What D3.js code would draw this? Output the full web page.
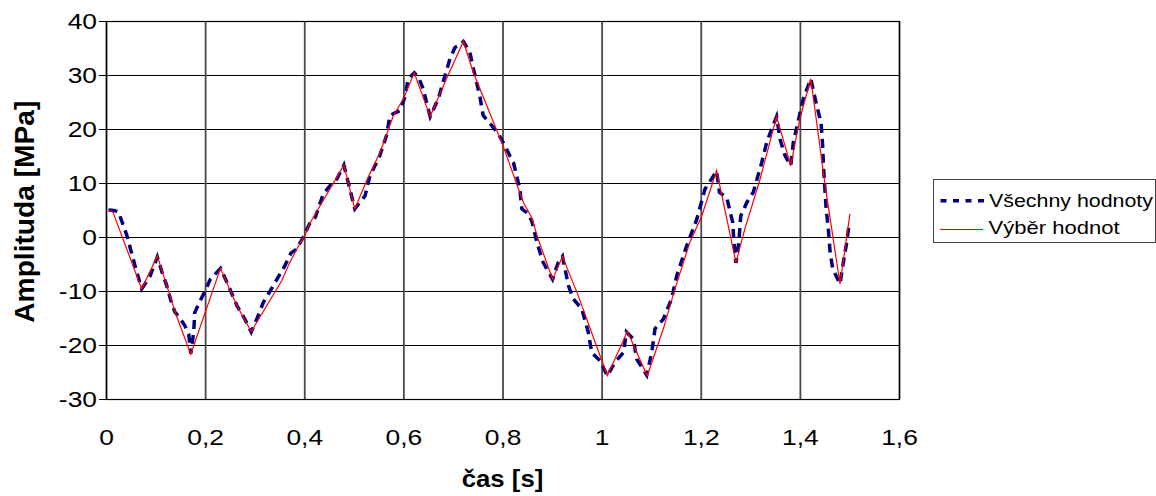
<!DOCTYPE html>
<html>
<head>
<meta charset="utf-8">
<script src="https://cdn.jsdelivr.net/npm/d3@7/dist/d3.min.js"></script>
<style>
html,body{margin:0;padding:0;background:#fff;}
text{font-family:"Liberation Sans",Arial,sans-serif;fill:#000;}
</style>
</head>
<body>
<svg id="chart" width="1156" height="496"></svg>
<script>
// ---- data ----
const seriesNames = ["Všechny hodnoty", "Výběr hodnot"];
const xTickValues = [0, 0.2, 0.4, 0.6, 0.8, 1.0, 1.2, 1.4, 1.6];
const xTickLabels = ["0", "0,2", "0,4", "0,6", "0,8", "1", "1,2", "1,4", "1,6"];
const yTickValues = [-30, -20, -10, 0, 10, 20, 30, 40];
const yTickLabels = ["-30", "-20", "-10", "0", "10", "20", "30", "40"];
const xTitle = "čas [s]";
const yTitle = "Amplituda [MPa]";

// all values (dashed navy)
const allTime = [0.004,0.015,0.024,0.041,0.0575,0.071,0.080,0.088,0.1025,0.112,0.1215,0.130,0.138,0.148,0.158,0.166,0.170,0.176,0.178,0.189,0.199,0.209,0.230,0.246,0.263,0.278,0.292,0.304,0.3165,0.3366,0.360,0.372,0.3838,0.397,0.410,0.421,0.4375,0.451,0.4645,0.479,0.491,0.501,0.512,0.5216,0.5317,0.550,0.565,0.572,0.582,0.592,0.601,0.609,0.621,0.630,0.639,0.653,0.6695,0.683,0.693,0.703,0.712,0.720,0.733,0.7435,0.7536,0.760,0.774,0.7906,0.804,0.814,0.821,0.834,0.838,0.848,0.858,0.869,0.881,0.900,0.9116,0.920,0.932,0.942,0.959,0.972,0.979,0.9958,1.0105,1.026,1.043,1.049,1.063,1.0698,1.090,1.100,1.1067,1.1235,1.140,1.1505,1.1707,1.191,1.2076,1.231,1.2366,1.2514,1.2635,1.266,1.270,1.276,1.2797,1.292,1.305,1.322,1.332,1.342,1.352,1.359,1.369,1.3806,1.3857,1.399,1.406,1.421,1.433,1.4417,1.445,1.4465,1.452,1.4564,1.460,1.4653,1.480,1.4867,1.4935,1.4988];
const allValue = [5.0,4.9,4.7,0.3,-5.3,-9.6,-8.4,-7.2,-3.7,-6.5,-9.0,-11.8,-13.9,-15.0,-16.4,-18.0,-21.6,-17.6,-14.0,-11.8,-10.0,-7.9,-5.8,-9.0,-12.7,-15.0,-17.6,-15.0,-12.1,-9.0,-5.3,-3.0,-2.2,0.0,2.5,3.6,8.0,9.5,10.7,13.3,8.9,5.2,6.5,7.6,11.4,14.7,18.8,22.5,23.0,23.4,25.6,29.3,30.4,29.5,27.4,22.3,25.6,29.9,33.0,35.1,35.5,36.2,34.2,29.9,25.9,22.5,21.0,19.1,16.9,15.0,13.8,8.9,5.2,4.5,3.0,-1.2,-4.7,-7.8,-4.7,-3.6,-9.0,-11.5,-13.3,-17.6,-21.4,-22.9,-25.7,-23.2,-21.4,-17.6,-18.9,-22.6,-25.6,-21.4,-17.0,-15.2,-11.5,-7.2,-1.6,3.3,8.9,12.2,8.3,7.3,2.7,-1.0,-4.8,-0.8,3.9,6.4,8.3,13.8,17.5,20.0,22.3,18.1,15.1,13.2,17.5,22.8,25.6,29.3,24.3,21.2,16.9,13.2,5.2,1.5,-2.8,-5.9,-8.7,-4.7,-1.0,2.7];

// selected values (thin red)
const selTime = [0.005,0.013,0.071,0.1025,0.140,0.170,0.230,0.263,0.292,0.3535,0.370,0.387,0.400,0.410,0.479,0.501,0.526,0.552,0.579,0.599,0.621,0.653,0.686,0.720,0.740,0.800,0.841,0.858,0.871,0.900,0.920,0.952,0.976,1.0105,1.051,1.091,1.1235,1.147,1.177,1.201,1.231,1.270,1.288,1.3186,1.352,1.3806,1.399,1.421,1.450,1.480,1.500];
const selValue = [5.0,4.6,-9.6,-3.5,-14.3,-21.7,-5.8,-12.7,-17.5,-8.1,-4.7,-1.7,0.25,2.5,13.3,5.2,10.7,15.7,22.5,25.6,30.4,22.3,29.3,36.2,30.5,16.9,6.4,3.6,-0.4,-7.8,-3.6,-10.9,-17.0,-25.7,-17.5,-25.7,-17.0,-9.6,-1.0,3.9,12.3,-4.7,1.5,10.7,22.3,13.2,21.9,29.3,9.5,-8.7,4.3];

// ---- drawing ----
const svg = d3.select("#chart");
svg.append("rect").attr("width",1156).attr("height",496).attr("fill","#fff");

const plot = {left:106.5, right:899.5, top:21, bottom:399};
const x = d3.scaleLinear().domain([0,1.6]).range([plot.left, plot.right]);
const y = d3.scaleLinear().domain([-30,40]).range([plot.bottom, plot.top]);

const g = svg.append("g");
// horizontal gridlines
g.selectAll("line.hg").data(yTickValues).join("line")
  .attr("x1",plot.left).attr("x2",plot.right)
  .attr("y1",d=>Math.round(y(d))+0.5).attr("y2",d=>Math.round(y(d))+0.5)
  .attr("stroke","#000").attr("stroke-width",1);
// vertical gridlines
g.selectAll("line.vg").data(xTickValues).join("line")
  .attr("x1",d=>x(d)).attr("x2",d=>x(d))
  .attr("y1",plot.top).attr("y2",plot.bottom)
  .attr("stroke","#4a4a4a").attr("stroke-width",1.8);
// frame
g.append("rect").attr("x",plot.left).attr("y",Math.round(plot.top)+0.5)
  .attr("width",plot.right-plot.left).attr("height",Math.round(plot.bottom)-Math.round(plot.top))
  .attr("fill","none").attr("stroke","#000").attr("stroke-width",1.2);
// y tick marks
g.selectAll("line.yt").data(yTickValues).join("line")
  .attr("x1",99).attr("x2",plot.left)
  .attr("y1",d=>Math.round(y(d))+0.5).attr("y2",d=>Math.round(y(d))+0.5)
  .attr("stroke","#000").attr("stroke-width",1);

// y tick labels
g.selectAll("text.yl").data(yTickValues).join("text")
  .attr("transform",d=>`translate(97,${y(d)+8}) scale(1.2,1)`)
  .attr("text-anchor","end").attr("font-size",22)
  .text((d,i)=>yTickLabels[i]);
// x tick labels
g.selectAll("text.xl").data(xTickValues).join("text")
  .attr("transform",d=>`translate(${x(d)},445) scale(1.2,1)`)
  .attr("text-anchor","middle").attr("font-size",22)
  .text((d,i)=>xTickLabels[i]);

// axis titles
svg.append("text").attr("x",502.5).attr("y",487)
  .attr("text-anchor","middle").attr("font-size",24).attr("font-weight","bold")
  .attr("textLength",81.7).attr("lengthAdjust","spacingAndGlyphs")
  .text(xTitle);
svg.append("text").attr("transform","translate(34,211.7) rotate(-90)")
  .attr("text-anchor","middle").attr("font-size",28).attr("font-weight","bold")
  .attr("textLength",222).attr("lengthAdjust","spacingAndGlyphs")
  .text(yTitle);

// series
const line = d3.line().x(d=>x(d[0])).y(d=>y(d[1]));
const allData = allTime.map((t,i)=>[t, allValue[i]]);
const selData = selTime.map((t,i)=>[t, selValue[i]]);
svg.append("path").attr("d",line(allData))
  .attr("fill","none").attr("stroke","#000080").attr("stroke-width",3.5)
  .attr("stroke-dasharray","9,6");
svg.append("path").attr("d",line(selData))
  .attr("fill","none").attr("stroke","#ff0000").attr("stroke-width",1.2);

// legend
const lg = svg.append("g");
lg.append("rect").attr("x",933.5).attr("y",179.5).attr("width",222).attr("height",63)
  .attr("fill","#fff").attr("stroke","#444").attr("stroke-width",1);
lg.append("line").attr("x1",940.5).attr("x2",984).attr("y1",200.7).attr("y2",200.7)
  .attr("stroke","#000080").attr("stroke-width",3.4).attr("stroke-dasharray","6,6.5");
lg.append("line").attr("x1",940).attr("x2",983).attr("y1",229.5).attr("y2",229.5)
  .attr("stroke","#ff0000").attr("stroke-width",1);
lg.append("text").attr("x",989).attr("y",206.7).attr("font-size",17.7)
  .attr("textLength",164).attr("lengthAdjust","spacingAndGlyphs").text(seriesNames[0]);
lg.append("text").attr("x",988.5).attr("y",233.5).attr("font-size",17.7)
  .attr("textLength",131).attr("lengthAdjust","spacingAndGlyphs").text(seriesNames[1]);
</script>
</body>
</html>
